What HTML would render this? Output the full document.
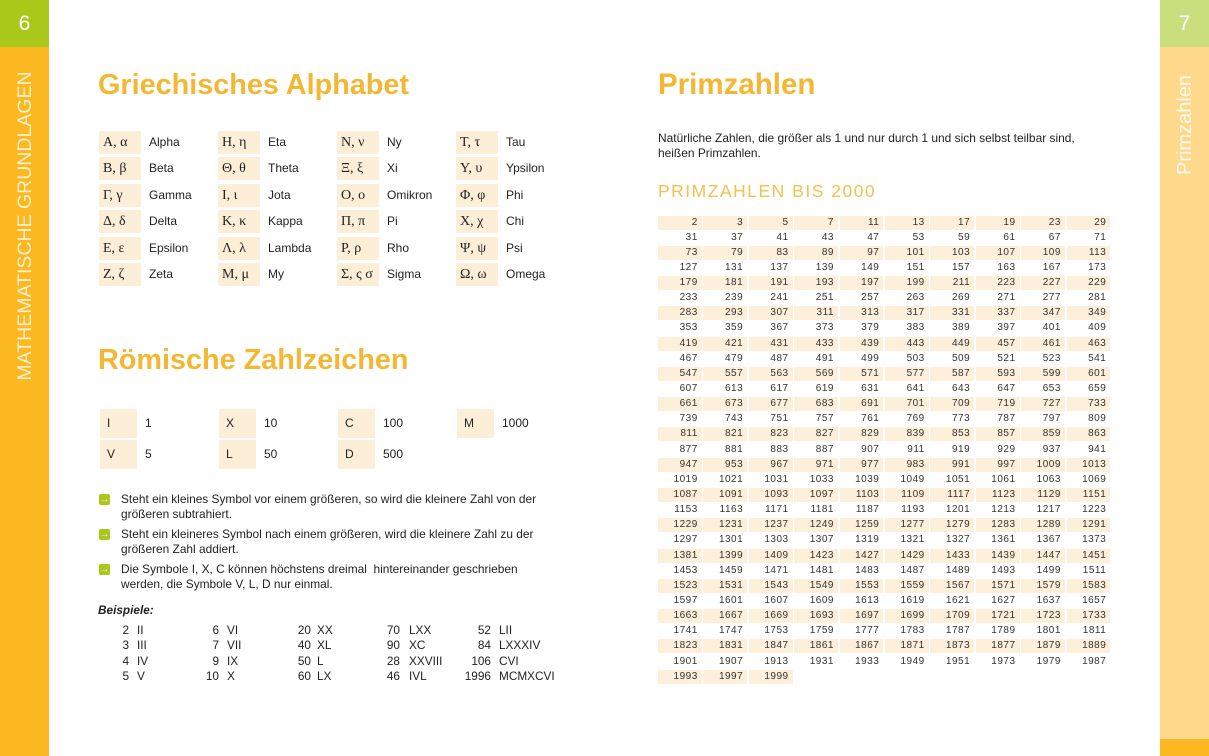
<!DOCTYPE html>
<html>
<head>
<meta charset="utf-8">
<style>
*{margin:0;padding:0;box-sizing:border-box;}
html,body{width:1209px;height:756px;overflow:hidden;background:#fff;}
body{position:relative;font-family:"Liberation Sans",sans-serif;color:#222;}
.abs{position:absolute;}
.sideL{left:0;top:0;width:49px;height:756px;background:#fbb820;}
.sideLg{left:0;top:0;width:49px;height:47px;background:#a9c81a;color:#fff;font-size:21px;text-align:center;line-height:47px;}
.sideR{left:1160px;top:0;width:49px;height:756px;background:#fed98b;}
.sideRg{left:1160px;top:0;width:49px;height:47px;background:#c9de7c;color:#fff;font-size:21px;text-align:center;line-height:47px;}
.sideRb{left:1160px;top:739px;width:49px;height:17px;background:#fbb822;}
.rotL{left:-135px;top:214px;width:320px;height:24px;line-height:24px;text-align:center;transform:rotate(-90deg);color:rgba(255,255,255,0.78);font-size:19.5px;white-space:nowrap;}
.rotR{left:1125px;top:113px;width:120px;height:24px;line-height:24px;text-align:center;transform:rotate(-90deg);color:rgba(255,255,255,0.85);font-size:20px;white-space:nowrap;}
.title{font-weight:bold;color:#f3b734;font-size:28.8px;line-height:34px;white-space:nowrap;}
.gc{width:42px;height:23px;background:#fdeed7;font-family:"Liberation Serif",serif;font-size:14px;line-height:23px;padding-left:4px;white-space:nowrap;color:#222;}
.gn{font-size:12px;line-height:23px;height:23px;white-space:nowrap;color:#222;}
.rc{width:37px;height:29px;background:#fdeed7;font-size:12px;line-height:29px;padding-left:7px;color:#222;}
.rn{font-size:12px;line-height:29px;color:#222;}
.bul{left:99px;width:11px;height:11px;background:#a9c81a;border-radius:2px;color:#fff;font-size:10px;line-height:11px;text-align:center;font-weight:bold;}
.bt{left:121px;width:440px;font-size:11.9px;line-height:15px;color:#222;}
.ex{font-size:11.8px;line-height:15.3px;color:#222;white-space:nowrap;}
.num{text-align:right;}
.pt{left:658px;top:215.5px;width:456px;}
.r{display:grid;grid-template-columns:repeat(10,43.8px);column-gap:1.6px;height:15.15px;}
.r span{display:block;height:14px;line-height:14px;text-align:right;padding-right:4px;font-size:10px;letter-spacing:0.5px;color:#333;}
.s span{background:#fdefd9;}
.s span:empty{background:transparent;}
</style>
</head>
<body>
<div class="abs sideL"></div>
<div class="abs sideLg">6</div>
<div class="abs rotL">MATHEMATISCHE GRUNDLAGEN</div>
<div class="abs sideR"></div>
<div class="abs sideRg">7</div>
<div class="abs sideRb"></div>
<div class="abs rotR">Primzahlen</div>

<div class="abs title" style="left:98px;top:68px;">Griechisches Alphabet</div>

<!-- Greek table -->
<div class="abs gc" style="left:99px;top:131px;">Α, α</div><div class="abs gn" style="left:149px;top:131px;">Alpha</div>
<div class="abs gc" style="left:99px;top:157.4px;">Β, β</div><div class="abs gn" style="left:149px;top:157.4px;">Beta</div>
<div class="abs gc" style="left:99px;top:183.8px;">Γ, γ</div><div class="abs gn" style="left:149px;top:183.8px;">Gamma</div>
<div class="abs gc" style="left:99px;top:210.2px;">Δ, δ</div><div class="abs gn" style="left:149px;top:210.2px;">Delta</div>
<div class="abs gc" style="left:99px;top:236.6px;">Ε, ε</div><div class="abs gn" style="left:149px;top:236.6px;">Epsilon</div>
<div class="abs gc" style="left:99px;top:263px;">Ζ, ζ</div><div class="abs gn" style="left:149px;top:263px;">Zeta</div>

<div class="abs gc" style="left:218px;top:131px;">Η, η</div><div class="abs gn" style="left:268px;top:131px;">Eta</div>
<div class="abs gc" style="left:218px;top:157.4px;">Θ, θ</div><div class="abs gn" style="left:268px;top:157.4px;">Theta</div>
<div class="abs gc" style="left:218px;top:183.8px;">Ι, ι</div><div class="abs gn" style="left:268px;top:183.8px;">Jota</div>
<div class="abs gc" style="left:218px;top:210.2px;">Κ, κ</div><div class="abs gn" style="left:268px;top:210.2px;">Kappa</div>
<div class="abs gc" style="left:218px;top:236.6px;">Λ, λ</div><div class="abs gn" style="left:268px;top:236.6px;">Lambda</div>
<div class="abs gc" style="left:218px;top:263px;">Μ, μ</div><div class="abs gn" style="left:268px;top:263px;">My</div>

<div class="abs gc" style="left:337px;top:131px;">Ν, ν</div><div class="abs gn" style="left:387px;top:131px;">Ny</div>
<div class="abs gc" style="left:337px;top:157.4px;">Ξ, ξ</div><div class="abs gn" style="left:387px;top:157.4px;">Xi</div>
<div class="abs gc" style="left:337px;top:183.8px;">Ο, ο</div><div class="abs gn" style="left:387px;top:183.8px;">Omikron</div>
<div class="abs gc" style="left:337px;top:210.2px;">Π, π</div><div class="abs gn" style="left:387px;top:210.2px;">Pi</div>
<div class="abs gc" style="left:337px;top:236.6px;">Ρ, ρ</div><div class="abs gn" style="left:387px;top:236.6px;">Rho</div>
<div class="abs gc" style="left:337px;top:263px;">Σ, ς σ</div><div class="abs gn" style="left:387px;top:263px;">Sigma</div>

<div class="abs gc" style="left:456px;top:131px;">Τ, τ</div><div class="abs gn" style="left:506px;top:131px;">Tau</div>
<div class="abs gc" style="left:456px;top:157.4px;">Υ, υ</div><div class="abs gn" style="left:506px;top:157.4px;">Ypsilon</div>
<div class="abs gc" style="left:456px;top:183.8px;">Φ, φ</div><div class="abs gn" style="left:506px;top:183.8px;">Phi</div>
<div class="abs gc" style="left:456px;top:210.2px;">Χ, χ</div><div class="abs gn" style="left:506px;top:210.2px;">Chi</div>
<div class="abs gc" style="left:456px;top:236.6px;">Ψ, ψ</div><div class="abs gn" style="left:506px;top:236.6px;">Psi</div>
<div class="abs gc" style="left:456px;top:263px;">Ω, ω</div><div class="abs gn" style="left:506px;top:263px;">Omega</div>

<div class="abs title" style="left:98px;top:343px;">Römische Zahlzeichen</div>

<!-- Roman table -->
<div class="abs rc" style="left:100px;top:408.5px;">I</div><div class="abs rn" style="left:145px;top:408.5px;">1</div>
<div class="abs rc" style="left:100px;top:439.5px;">V</div><div class="abs rn" style="left:145px;top:439.5px;">5</div>
<div class="abs rc" style="left:219px;top:408.5px;">X</div><div class="abs rn" style="left:264px;top:408.5px;">10</div>
<div class="abs rc" style="left:219px;top:439.5px;">L</div><div class="abs rn" style="left:264px;top:439.5px;">50</div>
<div class="abs rc" style="left:338px;top:408.5px;">C</div><div class="abs rn" style="left:383px;top:408.5px;">100</div>
<div class="abs rc" style="left:338px;top:439.5px;">D</div><div class="abs rn" style="left:383px;top:439.5px;">500</div>
<div class="abs rc" style="left:457px;top:408.5px;">M</div><div class="abs rn" style="left:502px;top:408.5px;">1000</div>

<!-- bullets -->
<div class="abs bul" style="top:494px;">&#x2192;</div>
<div class="abs bt" style="top:492px;">Steht ein kleines Symbol vor einem größeren, so wird die kleinere Zahl von der<br>größeren subtrahiert.</div>
<div class="abs bul" style="top:529px;">&#x2192;</div>
<div class="abs bt" style="top:527px;">Steht ein kleineres Symbol nach einem größeren, wird die kleinere Zahl zu der<br>größeren Zahl addiert.</div>
<div class="abs bul" style="top:564px;">&#x2192;</div>
<div class="abs bt" style="top:562px;">Die Symbole I, X, C können höchstens dreimal&nbsp; hintereinander geschrieben<br>werden, die Symbole V, L, D nur einmal.</div>

<div class="abs ex" style="left:98px;top:603px;font-style:italic;font-weight:bold;">Beispiele:</div>

<!-- examples -->
<div class="abs ex num" style="left:100px;top:623px;width:29px;">2<br>3<br>4<br>5</div>
<div class="abs ex" style="left:137px;top:623px;">II<br>III<br>IV<br>V</div>
<div class="abs ex num" style="left:190px;top:623px;width:29px;">6<br>7<br>9<br>10</div>
<div class="abs ex" style="left:227px;top:623px;">VI<br>VII<br>IX<br>X</div>
<div class="abs ex num" style="left:282px;top:623px;width:29px;">20<br>40<br>50<br>60</div>
<div class="abs ex" style="left:317px;top:623px;">XX<br>XL<br>L<br>LX</div>
<div class="abs ex num" style="left:371px;top:623px;width:29px;">70<br>90<br>28<br>46</div>
<div class="abs ex" style="left:409px;top:623px;">LXX<br>XC<br>XXVIII<br>IVL</div>
<div class="abs ex num" style="left:452px;top:623px;width:39px;">52<br>84<br>106<br>1996</div>
<div class="abs ex" style="left:499px;top:623px;">LII<br>LXXXIV<br>CVI<br>MCMXCVI</div>

<!-- right page -->
<div class="abs title" style="left:658px;top:68px;font-size:29.5px;">Primzahlen</div>
<div class="abs" style="left:658px;top:131px;font-size:11.95px;line-height:14.5px;color:#222;white-space:nowrap;">Natürliche Zahlen, die größer als 1 und nur durch 1 und sich selbst teilbar sind,<br>heißen Primzahlen.</div>
<div class="abs" style="left:658px;top:181px;font-size:17.5px;line-height:20px;color:#f4c04e;letter-spacing:1.5px;white-space:nowrap;">PRIMZAHLEN BIS 2000</div>

<div class="abs pt">
<div class="r s"><span>2</span><span>3</span><span>5</span><span>7</span><span>11</span><span>13</span><span>17</span><span>19</span><span>23</span><span>29</span></div>
<div class="r"><span>31</span><span>37</span><span>41</span><span>43</span><span>47</span><span>53</span><span>59</span><span>61</span><span>67</span><span>71</span></div>
<div class="r s"><span>73</span><span>79</span><span>83</span><span>89</span><span>97</span><span>101</span><span>103</span><span>107</span><span>109</span><span>113</span></div>
<div class="r"><span>127</span><span>131</span><span>137</span><span>139</span><span>149</span><span>151</span><span>157</span><span>163</span><span>167</span><span>173</span></div>
<div class="r s"><span>179</span><span>181</span><span>191</span><span>193</span><span>197</span><span>199</span><span>211</span><span>223</span><span>227</span><span>229</span></div>
<div class="r"><span>233</span><span>239</span><span>241</span><span>251</span><span>257</span><span>263</span><span>269</span><span>271</span><span>277</span><span>281</span></div>
<div class="r s"><span>283</span><span>293</span><span>307</span><span>311</span><span>313</span><span>317</span><span>331</span><span>337</span><span>347</span><span>349</span></div>
<div class="r"><span>353</span><span>359</span><span>367</span><span>373</span><span>379</span><span>383</span><span>389</span><span>397</span><span>401</span><span>409</span></div>
<div class="r s"><span>419</span><span>421</span><span>431</span><span>433</span><span>439</span><span>443</span><span>449</span><span>457</span><span>461</span><span>463</span></div>
<div class="r"><span>467</span><span>479</span><span>487</span><span>491</span><span>499</span><span>503</span><span>509</span><span>521</span><span>523</span><span>541</span></div>
<div class="r s"><span>547</span><span>557</span><span>563</span><span>569</span><span>571</span><span>577</span><span>587</span><span>593</span><span>599</span><span>601</span></div>
<div class="r"><span>607</span><span>613</span><span>617</span><span>619</span><span>631</span><span>641</span><span>643</span><span>647</span><span>653</span><span>659</span></div>
<div class="r s"><span>661</span><span>673</span><span>677</span><span>683</span><span>691</span><span>701</span><span>709</span><span>719</span><span>727</span><span>733</span></div>
<div class="r"><span>739</span><span>743</span><span>751</span><span>757</span><span>761</span><span>769</span><span>773</span><span>787</span><span>797</span><span>809</span></div>
<div class="r s"><span>811</span><span>821</span><span>823</span><span>827</span><span>829</span><span>839</span><span>853</span><span>857</span><span>859</span><span>863</span></div>
<div class="r"><span>877</span><span>881</span><span>883</span><span>887</span><span>907</span><span>911</span><span>919</span><span>929</span><span>937</span><span>941</span></div>
<div class="r s"><span>947</span><span>953</span><span>967</span><span>971</span><span>977</span><span>983</span><span>991</span><span>997</span><span>1009</span><span>1013</span></div>
<div class="r"><span>1019</span><span>1021</span><span>1031</span><span>1033</span><span>1039</span><span>1049</span><span>1051</span><span>1061</span><span>1063</span><span>1069</span></div>
<div class="r s"><span>1087</span><span>1091</span><span>1093</span><span>1097</span><span>1103</span><span>1109</span><span>1117</span><span>1123</span><span>1129</span><span>1151</span></div>
<div class="r"><span>1153</span><span>1163</span><span>1171</span><span>1181</span><span>1187</span><span>1193</span><span>1201</span><span>1213</span><span>1217</span><span>1223</span></div>
<div class="r s"><span>1229</span><span>1231</span><span>1237</span><span>1249</span><span>1259</span><span>1277</span><span>1279</span><span>1283</span><span>1289</span><span>1291</span></div>
<div class="r"><span>1297</span><span>1301</span><span>1303</span><span>1307</span><span>1319</span><span>1321</span><span>1327</span><span>1361</span><span>1367</span><span>1373</span></div>
<div class="r s"><span>1381</span><span>1399</span><span>1409</span><span>1423</span><span>1427</span><span>1429</span><span>1433</span><span>1439</span><span>1447</span><span>1451</span></div>
<div class="r"><span>1453</span><span>1459</span><span>1471</span><span>1481</span><span>1483</span><span>1487</span><span>1489</span><span>1493</span><span>1499</span><span>1511</span></div>
<div class="r s"><span>1523</span><span>1531</span><span>1543</span><span>1549</span><span>1553</span><span>1559</span><span>1567</span><span>1571</span><span>1579</span><span>1583</span></div>
<div class="r"><span>1597</span><span>1601</span><span>1607</span><span>1609</span><span>1613</span><span>1619</span><span>1621</span><span>1627</span><span>1637</span><span>1657</span></div>
<div class="r s"><span>1663</span><span>1667</span><span>1669</span><span>1693</span><span>1697</span><span>1699</span><span>1709</span><span>1721</span><span>1723</span><span>1733</span></div>
<div class="r"><span>1741</span><span>1747</span><span>1753</span><span>1759</span><span>1777</span><span>1783</span><span>1787</span><span>1789</span><span>1801</span><span>1811</span></div>
<div class="r s"><span>1823</span><span>1831</span><span>1847</span><span>1861</span><span>1867</span><span>1871</span><span>1873</span><span>1877</span><span>1879</span><span>1889</span></div>
<div class="r"><span>1901</span><span>1907</span><span>1913</span><span>1931</span><span>1933</span><span>1949</span><span>1951</span><span>1973</span><span>1979</span><span>1987</span></div>
<div class="r s"><span>1993</span><span>1997</span><span>1999</span><span></span><span></span><span></span><span></span><span></span><span></span><span></span></div>
</div>
</body>
</html>
